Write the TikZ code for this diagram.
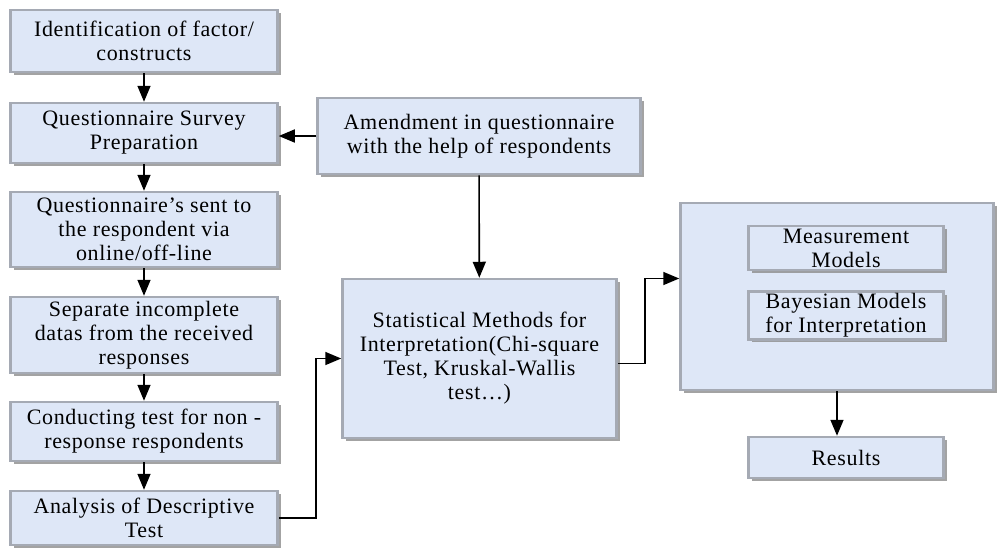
\documentclass[tikz,border=0pt]{standalone}
\usepackage{fontspec}
\setmainfont{Liberation Serif}[LetterSpace=3]
\usetikzlibrary{arrows.meta,shadows}
\definecolor{boxfill}{RGB}{222,231,247}
\definecolor{boxedge}{RGB}{165,170,180}
\tikzset{
  stepbox/.style = {draw=boxedge, line width=2.5pt, fill=boxfill, align=center,
                    inner sep=2pt, font=\fontsize{22}{24}\selectfont,
                    drop shadow={shadow xshift=3pt, shadow yshift=-3pt, fill=gray!90, opacity=0.8}},
  flow/.style = {line width=1.6pt, -{Triangle[length=16pt,width=13pt]}}
}
\begin{document}
\begin{tikzpicture}[x=1pt, y=-1pt]
                   \useasboundingbox (0,0) rectangle (997,550);

                   \node[stepbox, minimum width=267pt, minimum height=62pt] (ident) at (144,41) {Identification of factor/\\constructs};
                   \node[stepbox, minimum width=267pt, minimum height=60pt] (prep) at (144,133) {Questionnaire Survey\\Preparation};
                   \node[stepbox, minimum width=267pt, minimum height=75pt] (sent) at (144,229.5) {Questionnaire’s sent to\\the respondent via\\online/off-line};
                   \node[stepbox, minimum width=267pt, minimum height=76pt] (sep) at (144,335) {Separate incomplete\\datas from the received\\responses};
                   \node[stepbox, minimum width=267pt, minimum height=59pt] (nonresp) at (144,431.5) {Conducting test for non -\\response respondents};
                   \node[stepbox, minimum width=267pt, minimum height=54pt] (descr) at (144,518) {Analysis of Descriptive\\Test};

                   \node[stepbox, minimum width=323pt, minimum height=76pt] (amend) at (479,136) {Amendment in questionnaire\\with the help of respondents};
                   \node[stepbox, minimum width=274pt, minimum height=159pt] (stat) at (479.5,358.5) {Statistical Methods for\\Interpretation(Chi-square\\Test, Kruskal-Wallis\\test…)};

                   \node[stepbox, minimum width=313pt, minimum height=187pt] (models) at (837,296.5) {};
                   \node[stepbox, minimum width=195pt, minimum height=44pt] (meas) at (846,248) {Measurement\\Models};
                   \node[stepbox, minimum width=195pt, minimum height=45pt] (bayes) at (846,315.5) {Bayesian Models\\for Interpretation};
                   \node[stepbox, minimum width=195pt, minimum height=41pt] (res) at (846,457.5) {Results};

                   \draw[flow] (ident) -- (prep);
                   \draw[flow] (prep) -- (sent);
                   \draw[flow] (sent) -- (sep);
                   \draw[flow] (sep) -- (nonresp);
                   \draw[flow] (nonresp) -- (descr);

                   \draw[flow] (amend.west) -- (amend.west -| prep.east);
                   \draw[flow] (amend) -- (stat);
                   \draw[flow] (descr.east) -- ++(37,0) |- (stat.west);
                   \draw[flow] ([yshift=-5pt]stat.east) -- ++(27,0) |- ([yshift=18pt]models.west);
                   \draw[flow] (models.south) -- (models.south |- res.north);

        \end{tikzpicture}
\end{document}
